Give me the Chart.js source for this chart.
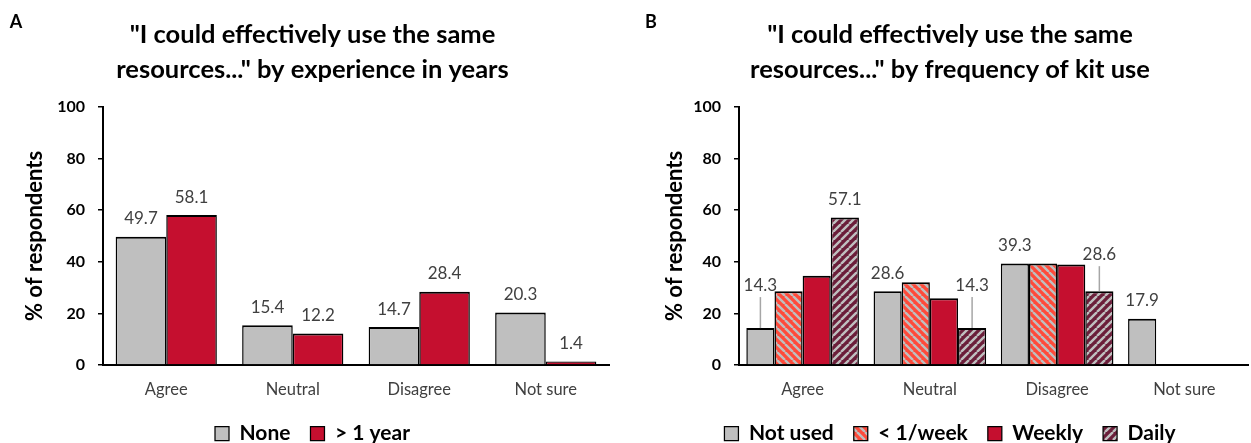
<!DOCTYPE html>
<html>
<head>
<meta charset="utf-8">
<script src="https://cdn.jsdelivr.net/npm/chart.js@4.4.1/dist/chart.umd.min.js"></script>
<style>
    html, body { margin: 0; padding: 0; background: #fff; overflow: hidden; }
    #wrap { display: flex; width: 1251px; height: 443px; overflow: hidden; }
    .panel { position: relative; height: 454px; flex: none; }
    #pa { width: 625px; }
    #pb { width: 626px; }
</style>
</head>
<body>
<div id="wrap">
    <div class="panel" id="pa"><canvas id="chartA"></canvas></div>
    <div class="panel" id="pb"><canvas id="chartB"></canvas></div>
</div>
<script>
// Categories shared by both panels
const categories = ['Agree', 'Neutral', 'Disagree', 'Not sure'];

// Panel A: by experience in years
const expSeries = ['None', '> 1 year'];
const expNone = [49.7, 15.4, 14.7, 20.3];
const expOverOne = [58.1, 12.2, 28.4, 1.4];

// Panel B: by frequency of kit use
const freqSeries = ['Not used', '< 1/week', 'Weekly', 'Daily'];
const freqNotUsed = [14.3, 28.6, 39.3, 17.9];
const freqLessWeekly = [28.6, 32.1, 39.3, 0];
const freqWeekly = [34.6, 25.9, 38.9, 0];
const freqDaily = [57.1, 14.3, 28.6, 0];

// Value axis
const yMax = 100;
const yStep = 20;

const FONT = 'Lato';
const GRAY = '#BFBFBF';
const RED = '#C50F2F';
const ORANGE = '#FF4A3A';
const MAROON = '#6B1E3A';

function stripes(base, line, dir) {
    const s = 8;
    const c = document.createElement('canvas');
    c.width = c.height = s;
    const g = c.getContext('2d');
    g.fillStyle = base;
    g.fillRect(0, 0, s, s);
    g.strokeStyle = line;
    g.lineWidth = 2.4;
    g.beginPath();
    for (const k of [-s, 0, s]) {
        if (dir === 'down') { g.moveTo(k, 0); g.lineTo(k + s, s); }
        else { g.moveTo(k, s); g.lineTo(k + s, 0); }
    }
    g.stroke();
    return g.createPattern(c, 'repeat');
}

// value labels above bars, with optional leader line
const valueLabels = {
    id: 'valueLabels',
    afterDatasetsDraw(chart, args, opts) {
        const ctx = chart.ctx;
        ctx.save();
        ctx.font = '17px ' + FONT;
        ctx.textAlign = 'center';
        ctx.textBaseline = 'middle';
        chart.data.datasets.forEach((ds, i) => {
            if (!opts.show[i]) return;
            chart.getDatasetMeta(i).data.forEach((bar, j) => {
                const v = ds.data[j];
                if (!v) return;
                const lift = (opts.lift[i] && opts.lift[i][j]) || 18;
                const y = bar.y - lift;
                if (lift > 18) {
                    ctx.strokeStyle = '#A6A6A6';
                    ctx.lineWidth = 1.5;
                    ctx.beginPath();
                    ctx.moveTo(bar.x, y + 12);
                    ctx.lineTo(bar.x, bar.y);
                    ctx.stroke();
                }
                ctx.fillStyle = '#404040';
                ctx.fillText(v.toFixed(1), bar.x, y);
            });
        });
        ctx.restore();
    }
};

const panelLetter = {
    id: 'panelLetter',
    afterDraw(chart, args, opts) {
        const ctx = chart.ctx;
        ctx.save();
        ctx.font = 'bold 18px ' + FONT;
        ctx.fillStyle = '#000';
        ctx.textAlign = 'center';
        ctx.textBaseline = 'middle';
        ctx.fillText(opts.text, opts.x, opts.y);
        ctx.restore();
    }
};

function makeChart(id, cfg) {
    return new Chart(document.getElementById(id), {
        type: 'bar',
        data: { labels: categories, datasets: cfg.datasets },
        options: {
            responsive: true,
            maintainAspectRatio: false,
            animation: false,
            layout: { padding: { left: cfg.padLeft, right: 0, top: 0, bottom: 0 } },
            datasets: { bar: { categoryPercentage: cfg.catPct, barPercentage: 1 } },
            scales: {
                x: {
                    grid: { display: false, drawTicks: false },
                    border: { display: true, color: '#000', width: 2 },
                    ticks: { color: '#404040', padding: 15, font: { family: FONT, size: 16.5 } },
                    afterFit: s => { s.height = 38; }
                },
                y: {
                    min: 0,
                    max: yMax,
                    ticks: { stepSize: yStep, color: '#000', padding: 13, font: { family: FONT, size: 16, weight: 'bold' } },
                    grid: { display: true, drawOnChartArea: false, drawTicks: true, tickLength: 5, color: '#000', lineWidth: 1.5 },
                    border: { display: true, color: '#000', width: 2 },
                    title: {
                        display: true,
                        text: '% of respondents',
                        color: '#000',
                        padding: { top: cfg.yTitlePad, bottom: 0 },
                        font: { family: FONT, size: 22, weight: 'bold', lineHeight: 1.2 }
                    },
                    afterFit: s => { s.width = cfg.yWidth; }
                },
                yR: {
                    position: 'right',
                    grid: { display: false },
                    border: { display: false },
                    ticks: { display: false },
                    afterFit: s => { s.width = cfg.rightGap; }
                }
            },
            plugins: {
                title: {
                    display: true,
                    text: cfg.title,
                    color: '#000',
                    padding: { top: 17.5, bottom: 19.5 },
                    font: { family: FONT, size: 25.5, weight: 'bold', lineHeight: 1.37 }
                },
                legend: {
                    position: 'bottom',
                    labels: {
                        color: '#000',
                        boxWidth: 14,
                        boxHeight: 14,
                        padding: 20,
                        font: { family: FONT, size: 21, weight: 'bold' }
                    }
                },
                tooltip: { enabled: false },
                valueLabels: cfg.labels,
                panelLetter: cfg.letter
            }
        },
        plugins: [valueLabels, panelLetter]
    });
}

function barSet(label, data, fill) {
    return {
        label: label,
        data: data,
        backgroundColor: fill,
        borderColor: '#000',
        borderWidth: { top: 2, left: 1.5, right: 1.5, bottom: 0 },
        borderSkipped: 'start',
        yAxisID: 'y'
    };
}

makeChart('chartA', {
    title: ['"I could effectively use the same', 'resources..." by experience in years'],
    datasets: [
        barSet(expSeries[0], expNone, GRAY),
        barSet(expSeries[1], expOverOne, RED)
    ],
    padLeft: 0,
    yWidth: 103,
    yTitlePad: 22,
    rightGap: 16,
    catPct: 0.8,
    labels: { show: [true, true], lift: {} },
    letter: { text: 'A', x: 16, y: 22 }
});

makeChart('chartB', {
    title: ['"I could effectively use the same', 'resources..." by frequency of kit use'],
    datasets: [
        barSet(freqSeries[0], freqNotUsed, GRAY),
        barSet(freqSeries[1], freqLessWeekly, stripes(ORANGE, GRAY, 'down')),
        barSet(freqSeries[2], freqWeekly, RED),
        barSet(freqSeries[3], freqDaily, stripes(MAROON, GRAY, 'up'))
    ],
    padLeft: 24,
    yWidth: 90,
    yTitlePad: 13,
    rightGap: 3,
    catPct: 0.885,
    labels: { show: [true, false, false, true], lift: { 0: [43, 18, 18, 18], 3: [18, 43, 37, 18] } },
    letter: { text: 'B', x: 26, y: 22 }
});
</script>
</body>
</html>
